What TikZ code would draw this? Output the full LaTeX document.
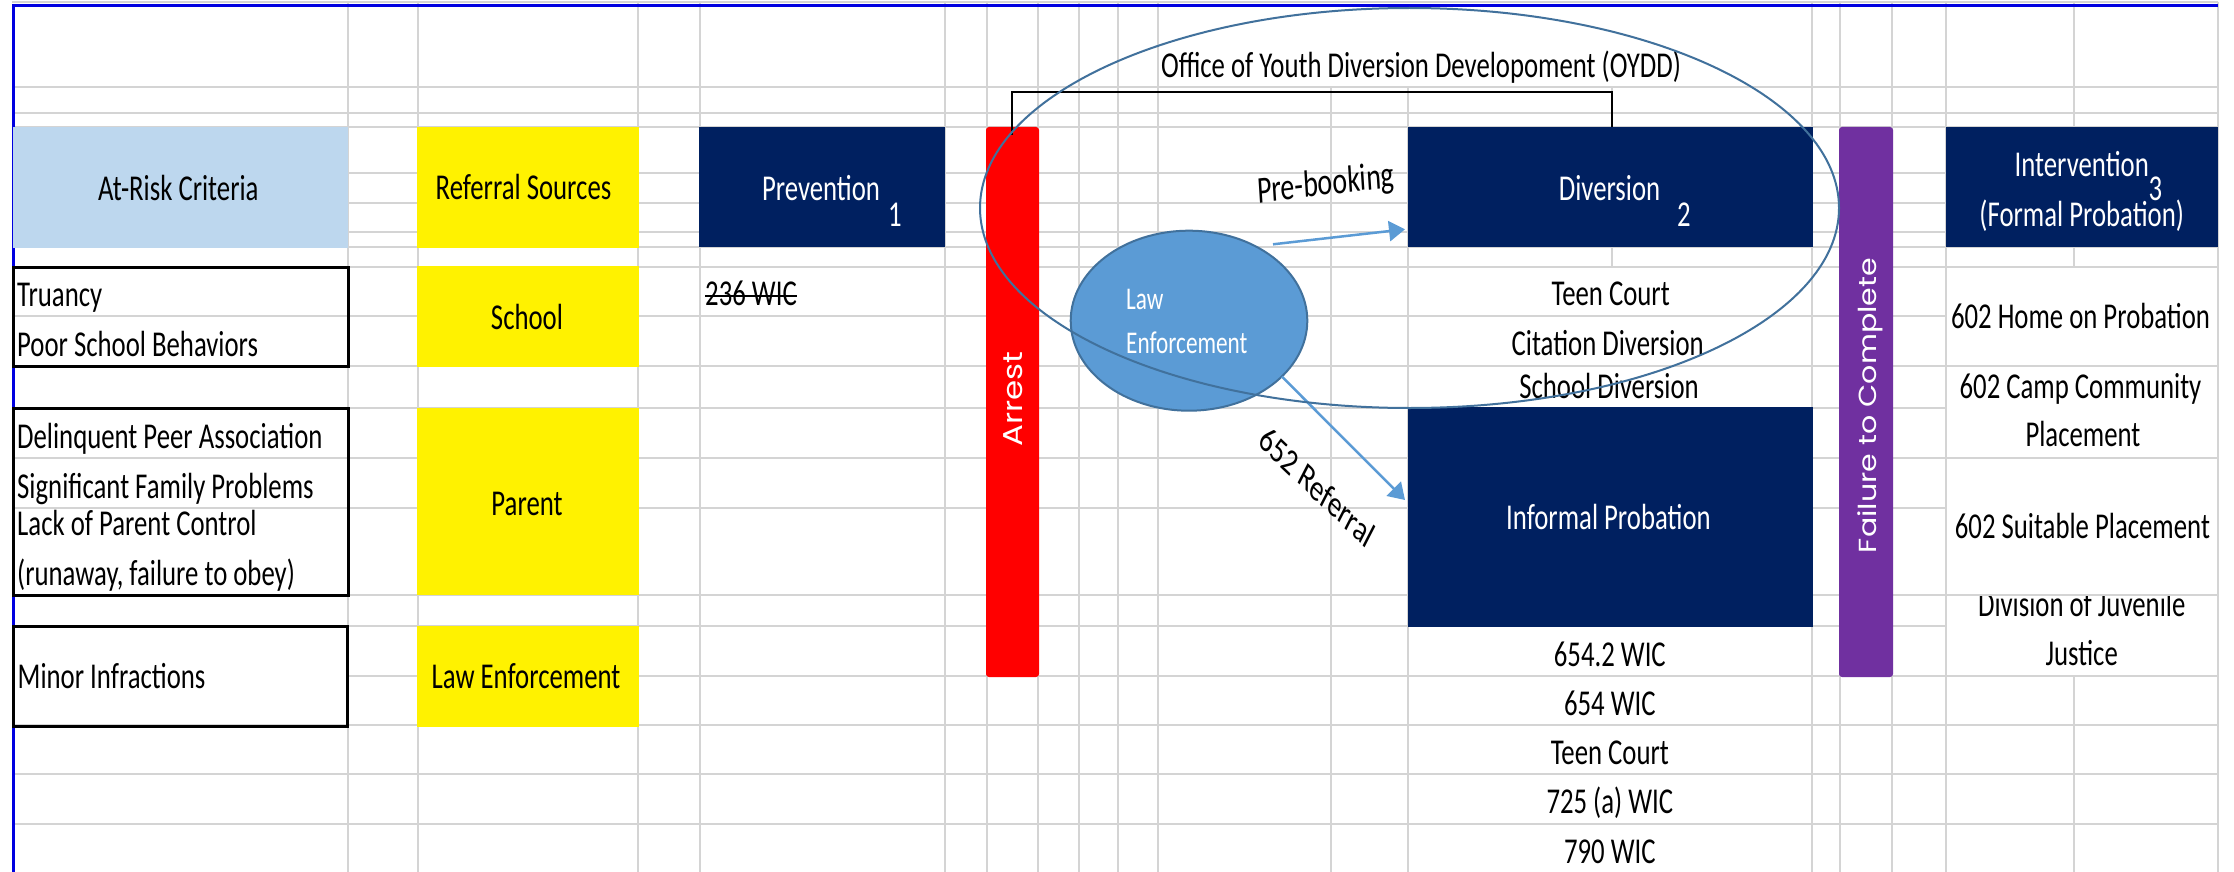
\documentclass[tikz,border=0pt]{standalone}
\usepackage{fontspec}
\usepackage{graphicx}
\setmainfont[FakeStretch=0.735]{Carlito}
\newfontfamily\plainfont{Carlito}
\newfontfamily\rotfont{Poppins}
\usetikzlibrary{arrows.meta,shapes.geometric}
\definecolor{navy}{HTML}{002060}
\definecolor{gridgray}{HTML}{D4D4D4}
\definecolor{lightblue}{HTML}{BDD7EE}
\definecolor{purp}{HTML}{7030A0}
\definecolor{circfill}{HTML}{5B9BD5}
\definecolor{circline}{HTML}{41719C}
\definecolor{bordblue}{HTML}{0000E0}
\newcommand\msz{\fontsize{36.4pt}{40pt}\selectfont}
\begin{document}
\begin{tikzpicture}[x=1pt,y=-1pt,
  gridln/.style={draw=gridgray,line width=2.2pt},
  box/.style={rectangle,inner sep=0pt,outer sep=0pt,draw=none},
  txt/.style={inner sep=0pt,anchor=base,font=\msz},
  txtl/.style={txt,anchor=base west},
  framebox/.style={rectangle,inner sep=0pt,draw=black,line width=3pt},
  arr/.style={draw=circfill,line width=2.5pt,-{Triangle[length=16pt,width=20pt]}},
]
\useasboundingbox[fill=white] (0,0) rectangle (2234,872);
% ---------- grid ----------
\draw[gridln] (12,2) -- (2218,2);
\foreach \y in {87,113,127,173,203,232,247,267,366,458,595,725,774,824}
  \draw[gridln] (13,\y) -- (2218,\y);
\foreach \y in {316,408,508,626}
  \draw[gridln] (13,\y) -- (1946,\y);
\draw[gridln] (347,676) -- (2218,676);
\foreach \x in {348,418,638,700,945,987,1038,1079,1118,1158,1812,1840,1892,1946,2218}
  \draw[gridln] (\x,2) -- (\x,872);
\foreach \x in {1331,1408}
  \draw[gridln] (\x,87) -- (\x,872);
\draw[gridln] (1612,87) -- (1612,267);
\draw[gridln] (2074,2) -- (2074,267);
\draw[gridln] (2074,676) -- (2074,872);
\draw[draw=bordblue,line width=2.6pt] (13.3,872) -- (13.3,5.5) -- (2218,5.5);
% ---------- header boxes ----------
\node[box,fill=lightblue,minimum width=335pt,minimum height=121pt] (atrisk) at (180.5,187.5) {};
\node[box,fill=yellow,minimum width=222pt,minimum height=121pt] (refsrc) at (528,187.5) {};
\node[box,fill=navy,minimum width=246pt,minimum height=120pt] (prev) at (822,187) {};
\node[box,fill=navy,minimum width=405pt,minimum height=120pt] (div) at (1610.5,187) {};
\node[box,fill=navy,minimum width=272pt,minimum height=120pt] (interv) at (2082,187) {};
\node[box,fill=navy,minimum width=405pt,minimum height=220pt] (infprob) at (1610.5,517) {};
% yellow sources
\node[box,fill=yellow,minimum width=222pt,minimum height=101pt] (school) at (528,316.5) {};
\node[box,fill=yellow,minimum width=222pt,minimum height=187pt] (parent) at (528,501.5) {};
\node[box,fill=yellow,minimum width=222pt,minimum height=101pt] (lawsrc) at (528,676.5) {};
% criteria frames
\node[framebox,minimum width=335pt,minimum height=99pt] (crit1) at (180.5,316.5) {};
\node[framebox,minimum width=335pt,minimum height=187pt] (crit2) at (180.5,501.5) {};
\node[framebox,minimum width=334pt,minimum height=100pt] (crit3) at (180,676) {};
% bars
\node[box,fill=red,rounded corners=3pt,minimum width=53pt,minimum height=550pt] (arrest) at (1012.5,402) {};
\node[box,fill=purp,rounded corners=3pt,minimum width=54pt,minimum height=550pt] (fail) at (1866,402) {};
% ---------- texts ----------
\node[txt] (tAtRisk) at (178.3,200) {At-Risk Criteria};
\node[txt] (tRef) at (523.5,199.5) {Referral Sources};
\node[txt,white] (tPrev) at (821,200) {Prevention};
\node[txtl,white] (tPrevN) at (887.8,226.7) {1};
\node[txt,white] (tDiv) at (1609.5,200) {Diversion};
\node[txtl,white] (tDivN) at (1677,226.7) {2};
\node[txt,white] (tInt) at (2081.7,176.7) {Intervention};
\node[txtl,white] (tIntN) at (2148.4,200) {3};
\node[txt,white] (tIntB) at (2081.7,226.7) {(Formal Probation)};
\node[txt] (tOYDD) at (1421,77.3) {Office of Youth Diversion Developoment (OYDD)};
% criteria
\node[txtl] (c1) at (17,306.7) {Truancy};
\node[txtl] (c2) at (17,356) {Poor School Behaviors};
\node[txtl] (c3) at (17,448.3) {Delinquent Peer Association};
\node[txtl] (c4) at (17,498.3) {Significant Family Problems};
\node[txtl] (c5) at (17,535) {Lack of Parent Control};
\node[txtl] (c6) at (17,585.5) {(runaway, failure to obey)};
\node[txtl] (c7) at (17.5,688.3) {Minor Infractions};
% sources
\node[txt] (sSchool) at (527,329.3) {School};
\node[txt] (sParent) at (527,515) {Parent};
\node[txt] (sLaw) at (526,688.3) {Law Enforcement};
% prevention
\node[txtl] (w236) at (705,305) {236 WIC};
\draw[black,line width=2pt] ([yshift=9pt]w236.base west) -- ([yshift=9pt]w236.base east);
% diversion items
\node[txt] (d1) at (1610.7,305) {Teen Court};
\node[txt] (d2) at (1607.7,355) {Citation Diversion};
\node[txt] (d3) at (1609,398.3) {School Diversion};
\node[txt,white] (tInf) at (1608.4,529.3) {Informal Probation};
\node[txt] (p1) at (1609.8,666) {654.2 WIC};
\node[txt] (p2) at (1609.8,715) {654 WIC};
\node[txt] (p3) at (1609.8,764.3) {Teen Court};
\node[txt] (p4) at (1609.8,813.3) {725 (a) WIC};
\node[txt] (p5) at (1609.8,863.3) {790 WIC};
% intervention items
\node[txt] (i1) at (2080.5,328.3) {602 Home on Probation};
\node[txt] (i2) at (2080.5,398.3) {602 Camp Community};
\node[txt] (i3) at (2082.9,446.7) {Placement};
\node[txt] (i4) at (2082.4,538.3) {602 Suitable Placement};
\begin{scope}
  \clip (1946,596) rectangle (2218,680);
  \node[txt] (i5) at (2081.7,616.7) {Division of Juvenile};
\end{scope}
\node[txt] (i6) at (2081.7,665) {Justice};
% vertical bar labels
\node[inner sep=0pt,anchor=base,rotate=90,white] (tArrest) at (1022.4,399.2)
  {\resizebox{95pt}{18.9pt}{\rotfont Arrest}};
\node[inner sep=0pt,anchor=base,rotate=90,white] (tFail) at (1876,405.5)
  {\resizebox{295pt}{18.8pt}{\rotfont Failure to Complete}};
% ---------- law enforcement circle ----------
\node[ellipse,draw=circline,fill=circfill,line width=2pt,inner sep=0pt,
      minimum width=236.6pt,minimum height=180pt] (le) at (1189,320.7) {};
\node[txtl,white,font=\fontsize{31.6pt}{36pt}\selectfont] (leT1) at (1126,309) {Law};
\node[txtl,white,font=\fontsize{31.6pt}{36pt}\selectfont] (leT2) at (1126,353) {Enforcement};
% arrows
\coordinate (pbA) at (1273,244.3);
\coordinate (pbB) at (1405,229.3);
\coordinate (rfA) at (1282,376.7);
\coordinate (rfB) at (1405,500);
\draw[arr] (pbA) -- (pbB);
\draw[arr] (rfA) -- (rfB);
\node[inner sep=0pt,xscale=0.735,rotate=5,font=\plainfont\fontsize{38pt}{42pt}\selectfont] (tPre) at (1326,185) {Pre-booking};
\node[inner sep=0pt,xscale=0.735,rotate=-35,font=\plainfont\fontsize{37pt}{41pt}\selectfont] (t652) at (1317.5,486.7) {652 Referral};
% bracket
\coordinate (brA) at (1012.2,135);
\coordinate (brB) at (1612,127);
\draw[black,line width=2pt] (brA) -- (1012.2,92) -- (1612,92) -- (brB);
% OYDD ellipse
\node[ellipse,draw=circline,line width=2pt,inner sep=0pt,
      minimum width=859pt,minimum height=400pt] (oyddring) at (1409.5,208) {};
\end{tikzpicture}
\end{document}
